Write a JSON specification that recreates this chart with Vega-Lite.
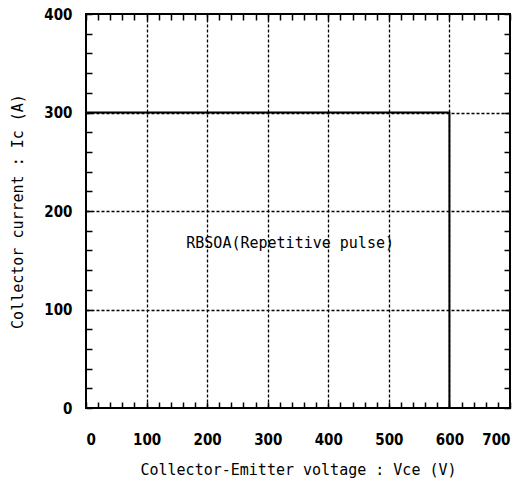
{
  "$schema": "https://vega.github.io/schema/vega-lite/v6.json",
  "width": 424,
  "height": 394,
  "autosize": "none",
  "padding": {"left": 86, "top": 14, "right": 17, "bottom": 84},
  "background": "white",
  "config": {
    "view": {"stroke": "black", "strokeWidth": 2},
    "axis": {
      "domain": false,
      "tickColor": "black",
      "tickWidth": 1.5,
      "tickSize": -6,
      "gridColor": "black",
      "gridDash": [3, 2],
      "gridWidth": 1.3,
      "labelFont": "DejaVu Sans Condensed, Liberation Sans, sans-serif",
      "labelFontWeight": "bold",
      "labelFontSize": 15,
      "labelColor": "black",
      "titleFont": "DejaVu Sans Mono",
      "titleFontWeight": "normal",
      "titleFontSize": 15,
      "titleColor": "black"
    }
  },
  "resolve": {"axis": {"x": "independent", "y": "independent"}},
  "datasets": {
    "soa": [
      {"k": 1, "v": 0, "i": 300},
      {"k": 2, "v": 600, "i": 300},
      {"k": 3, "v": 600, "i": 0}
    ],
    "note": [{"v": 337, "i": 168, "label": "RBSOA(Repetitive pulse)"}]
  },
  "layer": [
    {
      "data": {"name": "soa"},
      "mark": {"type": "line", "color": "black", "strokeWidth": 2},
      "encoding": {
        "x": {
          "field": "v", "type": "quantitative",
          "scale": {"domain": [0, 700], "nice": false, "zero": false},
          "axis": {
            "orient": "bottom",
            "values": [0,20,40,60,80,100,120,140,160,180,200,220,240,260,280,300,320,340,360,380,400,420,440,460,480,500,520,540,560,580,600,620,640,660,680,700],
            "labelExpr": "datum.value % 100 === 0 ? datum.label : ''",
            "gridOpacity": {"condition": {"test": "datum.value % 100 === 0 && datum.value > 0 && datum.value < 700", "value": 1}, "value": 0},
            "labelPadding": 30,
            "title": "Collector-Emitter voltage : Vce (V)",
            "titlePadding": 15
          }
        },
        "y": {
          "field": "i", "type": "quantitative",
          "scale": {"domain": [0, 400], "nice": false, "zero": false},
          "axis": {
            "orient": "left",
            "values": [0,20,40,60,80,100,120,140,160,180,200,220,240,260,280,300,320,340,360,380,400],
            "labelExpr": "datum.value % 100 === 0 ? datum.label : ''",
            "gridOpacity": {"condition": {"test": "datum.value % 100 === 0 && datum.value > 0 && datum.value < 400", "value": 1}, "value": 0},
            "labelPadding": 20,
            "title": "Collector current : Ic (A)",
            "titlePadding": 18
          }
        },
        "order": {"field": "k", "type": "quantitative"}
      }
    },
    {
      "data": {"name": "note"},
      "mark": {"type": "text", "font": "DejaVu Sans Mono", "fontSize": 15, "color": "black", "align": "center", "baseline": "middle"},
      "encoding": {
        "x": {"field": "v", "type": "quantitative", "axis": null},
        "y": {"field": "i", "type": "quantitative", "axis": null},
        "text": {"field": "label"}
      }
    },
    {
      "data": {"name": "soa"},
      "mark": {"type": "point", "opacity": 0},
      "encoding": {
        "x": {
          "field": "v", "type": "quantitative",
          "axis": {
            "orient": "top",
            "values": [0,20,40,60,80,100,120,140,160,180,200,220,240,260,280,300,320,340,360,380,400,420,440,460,480,500,520,540,560,580,600,620,640,660,680,700],
            "labels": false, "grid": false, "title": null
          }
        },
        "y": {
          "field": "i", "type": "quantitative",
          "axis": {
            "orient": "right",
            "values": [0,20,40,60,80,100,120,140,160,180,200,220,240,260,280,300,320,340,360,380,400],
            "labels": false, "grid": false, "title": null
          }
        }
      }
    }
  ]
}
